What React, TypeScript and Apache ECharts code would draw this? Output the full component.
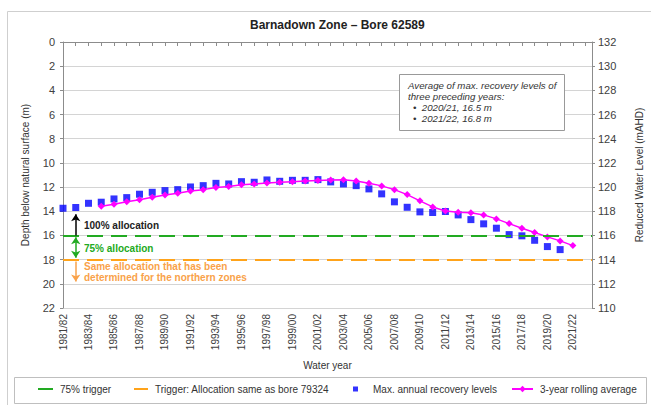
import React, { useEffect, useRef } from "react";
import * as echarts from "echarts";

const yearLabels = [
  "1981/82", "1982/83", "1983/84", "1984/85", "1985/86", "1986/87", "1987/88", "1988/89",
  "1989/90", "1990/91", "1991/92", "1992/93", "1993/94", "1994/95", "1995/96", "1996/97",
  "1997/98", "1998/99", "1999/00", "2000/01", "2001/02", "2002/03", "2003/04", "2004/05",
  "2005/06", "2006/07", "2007/08", "2008/09", "2009/10", "2010/11", "2011/12", "2012/13",
  "2013/14", "2014/15", "2015/16", "2016/17", "2017/18", "2018/19", "2019/20", "2020/21",
  "2021/22",
];

// Max. annual recovery levels (depth below natural surface, m), 1981/82 .. 2020/21
const maxRecovery = [
  13.75, 13.69, 13.34, 13.25, 12.98, 12.87, 12.59, 12.43, 12.29, 12.21,
  11.99, 11.88, 11.69, 11.74, 11.55, 11.6, 11.41, 11.52, 11.44, 11.44,
  11.38, 11.57, 11.74, 11.88, 12.15, 12.56, 13.22, 13.67, 14.05, 14.1,
  14.02, 14.3, 14.69, 15.04, 15.4, 15.93, 16.03, 16.4, 16.92, 17.17,
];

// 3-year rolling average (m), starting 1984/85 .. 2021/22
const rollingAvg = [
  null, null, null,
  13.59, 13.42, 13.22, 13.05, 12.84, 12.65, 12.5,
  12.33, 12.21, 12.04, 11.96, 11.8, 11.74, 11.66, 11.6, 11.55, 11.5,
  11.45, 11.42, 11.4, 11.49, 11.68, 11.9, 12.21, 12.62, 13.14, 13.64,
  13.97, 14.08, 14.13, 14.3, 14.63, 15.02, 15.4, 15.76, 16.12, 16.45,
  16.84,
];

const TRIGGER_75 = 16;
const TRIGGER_NORTH = 18;
const ARROW_X = 1;
const ARROW_TOP = 14.25;
const ARROW_BOTTOM = 19.8;

const FONT = "'Liberation Sans', Arial, sans-serif";
const GREEN = "#22aa22";
const ORANGE = "#ffa31a";
const ORANGE_TEXT = "#f9a24a";
const BLUE = "#0000ff";
const PINK = "#ff00ff";

export default function App() {
  const ref = useRef<HTMLDivElement>(null);

  useEffect(() => {
    if (!ref.current) return;
    const chart = echarts.init(ref.current, null, { renderer: "svg" });

    const blueData = maxRecovery.map((v, i) => [i, v]);
    const pinkData = rollingAvg.map((v, i) => [i, v]);

    const legendBase = {
      top: 384,
      itemHeight: 8,
      padding: 0,
      textStyle: { fontSize: 10, color: "#333", fontFamily: FONT, padding: [0, 0, 0, 2] },
      itemGap: 0,
      selectedMode: false,
    };

    const option: any = {
      animation: false,
      textStyle: { fontFamily: FONT },
      title: {
        text: "Barnadown Zone – Bore 62589",
        left: 250,
        top: 19,
        padding: 0,
        textStyle: { fontSize: 12, fontWeight: "bold", color: "#222", fontFamily: FONT },
      },
      grid: {
        left: 63,
        right: 59,
        top: 42,
        bottom: 97,
        containLabel: false,
        outerBoundsMode: "none",
      },
      legend: [
        { ...legendBase, left: 37, itemWidth: 15, data: ["75% trigger"], itemStyle: { opacity: 0 } },
        { ...legendBase, left: 133, itemWidth: 14, data: ["Trigger: Allocation same as bore 79324"], itemStyle: { opacity: 0 } },
        { ...legendBase, left: 353, itemWidth: 5, itemHeight: 5, data: ["Max. annual recovery levels"], textStyle: { ...legendBase.textStyle, padding: [0, 0, 0, 10] } },
        { ...legendBase, left: 511, itemWidth: 21, data: ["3-year rolling average"] },
      ],
      xAxis: {
        type: "value",
        min: 0,
        max: 41.5,
        interval: 1,
        name: "Water year",
        nameLocation: "middle",
        nameGap: 52,
        nameTextStyle: { fontSize: 10, color: "#333", fontFamily: FONT },
        axisLine: { lineStyle: { color: "#8c8c8c" } },
        axisTick: { show: true, length: 4, lineStyle: { color: "#8c8c8c" } },
        splitLine: { show: false },
        axisLabel: {
          rotate: 90,
          fontSize: 10,
          color: "#404040",
          margin: 6,
          showMaxLabel: false,
          formatter: (v: number) =>
            Number.isInteger(v) && v % 2 === 0 && yearLabels[v] ? yearLabels[v] : "",
        },
      },
      yAxis: [
        {
          type: "value",
          inverse: true,
          min: 0,
          max: 22,
          interval: 2,
          name: "Depth below natural surface (m)",
          nameLocation: "middle",
          nameRotate: 90,
          nameGap: 33,
          nameTextStyle: { fontSize: 10, color: "#333", fontFamily: FONT },
          axisLine: { show: true, lineStyle: { color: "#8c8c8c" } },
          axisTick: { show: true, length: 3, lineStyle: { color: "#8c8c8c" } },
          axisLabel: { fontSize: 11, color: "#404040", margin: 8 },
          splitLine: { show: true, lineStyle: { color: "#d4d4d4", width: 1 } },
        },
        {
          type: "value",
          min: 110,
          max: 132,
          interval: 2,
          position: "right",
          name: "Reduced Water Level (mAHD)",
          nameLocation: "middle",
          nameRotate: 90,
          nameGap: 42,
          nameTextStyle: { fontSize: 10, color: "#333", fontFamily: FONT },
          axisLine: { show: true, lineStyle: { color: "#8c8c8c" } },
          axisTick: { show: true, length: 3, lineStyle: { color: "#8c8c8c" } },
          axisLabel: { fontSize: 11, color: "#404040", margin: 6 },
          splitLine: { show: false },
        },
      ],
      series: [
        {
          name: "75% trigger",
          type: "line",
          data: [],
          symbol: "none",
          lineStyle: { color: GREEN, width: 2 },
          itemStyle: { color: GREEN },
          markLine: {
            silent: true,
            symbol: "none",
            label: { show: false },
            lineStyle: { color: GREEN, width: 2, type: [16, 8] },
            data: [{ yAxis: TRIGGER_75 }],
          },
        },
        {
          name: "Trigger: Allocation same as bore 79324",
          type: "line",
          data: [],
          symbol: "none",
          lineStyle: { color: ORANGE, width: 2 },
          itemStyle: { color: ORANGE },
          markLine: {
            silent: true,
            symbol: "none",
            label: { show: false },
            lineStyle: { color: ORANGE, width: 2, type: [16, 8] },
            data: [{ yAxis: TRIGGER_NORTH }],
          },
        },
        {
          name: "arrows",
          type: "line",
          data: [],
          symbol: "none",
          markLine: {
            silent: true,
            label: { show: false },
            symbolSize: 7,
            data: [
              [
                { coord: [ARROW_X, TRIGGER_75], symbol: "none", lineStyle: { color: "#000", width: 1.5, type: "solid" } },
                { coord: [ARROW_X, ARROW_TOP], symbol: "arrow" },
              ],
              [
                { coord: [ARROW_X, TRIGGER_75 + 0.15], symbol: "arrow", lineStyle: { color: GREEN, width: 1.5, type: "solid" } },
                { coord: [ARROW_X, TRIGGER_NORTH - 0.15], symbol: "arrow" },
              ],
              [
                { coord: [ARROW_X, TRIGGER_NORTH + 0.15], symbol: "none", lineStyle: { color: ORANGE_TEXT, width: 1.5, type: "solid" } },
                { coord: [ARROW_X, ARROW_BOTTOM], symbol: "arrow" },
              ],
            ],
          },
        },
        {
          name: "Max. annual recovery levels",
          type: "scatter",
          data: blueData,
          symbol: "rect",
          symbolSize: 7,
          itemStyle: { color: BLUE },
          z: 3,
        },
        {
          name: "3-year rolling average",
          type: "line",
          data: pinkData,
          symbol: "diamond",
          symbolSize: 7,
          showSymbol: true,
          connectNulls: false,
          lineStyle: { color: PINK, width: 1.5 },
          itemStyle: { color: PINK },
          z: 4,
        },
      ],
      graphic: [
        {
          type: "rect",
          shape: { x: 7.5, y: 11.5, width: 700, height: 500 },
          style: { fill: "none", stroke: "#cfcfcf", lineWidth: 1 },
          silent: true,
          z: -10,
        },
        {
          type: "rect",
          shape: { x: 14.5, y: 377.5, width: 632, height: 26 },
          style: { fill: "none", stroke: "#bfbfbf", lineWidth: 1 },
          silent: true,
        },
        {
          type: "rect",
          shape: { x: 399.5, y: 74.5, width: 165, height: 56 },
          style: { fill: "#fff", stroke: "#999", lineWidth: 1 },
          z: 10,
        },
        {
          type: "text",
          x: 408,
          y: 80,
          z: 11,
          style: {
            text: "Average of max. recovery levels of",
            font: `italic 9.7px ${FONT}`,
            fill: "#333",
          },
        },
        {
          type: "text",
          x: 408,
          y: 91,
          z: 11,
          style: { text: "three preceding years:", font: `italic 9.7px ${FONT}`, fill: "#333" },
        },
        {
          type: "text",
          x: 413,
          y: 102,
          z: 11,
          style: { text: "•  2020/21, 16.5 m", font: `italic 9.7px ${FONT}`, fill: "#333" },
        },
        {
          type: "text",
          x: 413,
          y: 113,
          z: 11,
          style: { text: "•  2021/22, 16.8 m", font: `italic 9.7px ${FONT}`, fill: "#333" },
        },
        {
          type: "text",
          x: 84,
          y: 220,
          z: 11,
          style: { text: "100% allocation", font: `bold 10px ${FONT}`, fill: "#222" },
        },
        {
          type: "text",
          x: 84,
          y: 243,
          z: 11,
          style: { text: "75% allocation", font: `bold 10px ${FONT}`, fill: GREEN },
        },
        {
          type: "text",
          x: 84,
          y: 261,
          z: 11,
          style: { text: "Same allocation that has been", font: `bold 10px ${FONT}`, fill: ORANGE_TEXT },
        },
        {
          type: "text",
          x: 84,
          y: 272,
          z: 11,
          style: { text: "determined for the northern zones", font: `bold 10px ${FONT}`, fill: ORANGE_TEXT },
        },
      ],
    };

    chart.setOption(option);
    return () => chart.dispose();
  }, []);

  return <div ref={ref} style={{ width: 651, height: 405, position: "absolute", left: 0, top: 0 }} />;
}
